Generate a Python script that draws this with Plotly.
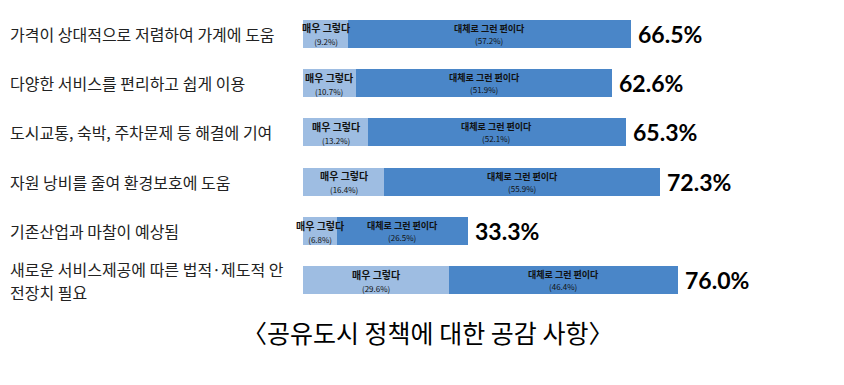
import plotly.graph_objects as go

categories = [
    "가격이 상대적으로 저렴하여 가계에 도움",
    "다양한 서비스를 편리하고 쉽게 이용",
    "도시교통, 숙박, 주차문제 등 해결에 기여",
    "자원 낭비를 줄여 환경보호에 도움",
    "기존산업과 마찰이 예상됨",
    "새로운 서비스제공에 따른 법적·제도적 안|전장치 필요",
]
very_agree = [9.2, 10.7, 13.2, 16.4, 6.8, 29.6]
mostly_agree = [57.2, 51.9, 52.1, 55.9, 26.5, 46.4]
total_labels = ["66.5%", "62.6%", "65.3%", "72.3%", "33.3%", "76.0%"]
series_names = ["매우 그렇다", "대체로 그런 편이다"]
caption = "〈공유도시 정책에 대한 공감 사항〉"

LIGHT = "#9EBDE2"
DARK = "#4A86C8"
FONT = "Noto Sans CJK KR"

# the page body has an 8px margin, so the figure is laid out 8px up/left
W, H = 844, 385
ML, MR, MT, MB = 295, 0, 1, 88
pw = W - ML - MR
ph = H - MT - MB
scale = 4.94  # px per percent
xmax = pw / scale

ys = list(range(len(categories)))

fig = go.Figure()
fig.add_trace(go.Bar(
    y=ys, x=very_agree, orientation="h", name=series_names[0],
    marker=dict(color=LIGHT, line=dict(width=0)), hoverinfo="x+name",
))
fig.add_trace(go.Bar(
    y=ys, x=mostly_agree, orientation="h", name=series_names[1],
    marker=dict(color=DARK, line=dict(width=0)), hoverinfo="x+name",
))

for i, (a, b, lab) in enumerate(zip(very_agree, mostly_agree, total_labels)):
    # segment labels
    fig.add_annotation(
        x=a / 2, y=i, xref="x", yref="y",
        text=f"<b>{series_names[0]}</b><br><span style='font-size:8px'>({a}%)</span>",
        showarrow=False, xanchor="center", yanchor="middle",
        font=dict(family=FONT, size=10, color="#111111"),
    )
    fig.add_annotation(
        x=a + b / 2, y=i, xref="x", yref="y",
        text=f"<b>{series_names[1]}</b><br><span style='font-size:8px'>({b}%)</span>",
        showarrow=False, xanchor="center", yanchor="middle",
        font=dict(family=FONT, size=9, color="#111111"),
    )
    # total label
    fig.add_annotation(
        x=a + b, y=i, xref="x", yref="y", text=f"<b>{lab}</b>",
        showarrow=False, xanchor="left", yanchor="middle", xshift=5,
        font=dict(family="Lato", size=23, color="#000000"),
    )

for i, cat in enumerate(categories):
    lines = cat.split("|")
    n = len(lines)
    step = 23
    for k, line in enumerate(lines):
        fig.add_annotation(
            x=-ML / pw, y=i, xref="paper", yref="y", text=line,
            showarrow=False, xanchor="left", yanchor="middle", align="left",
            yshift=(n - 1) * step / 2 - k * step,
            font=dict(family=FONT, size=16, color="#222222"),
        )

fig.add_annotation(
    x=(419 - ML) / pw, y=-(324 - (MT + ph)) / ph, xref="paper", yref="paper",
    text=caption, showarrow=False, xanchor="center", yanchor="middle",
    font=dict(family=FONT, size=25, color="#000000"),
)

fig.update_layout(
    width=W, height=H, barmode="stack", bargap=0.43, showlegend=False,
    margin=dict(l=ML, r=MR, t=MT, b=MB),
    paper_bgcolor="white", plot_bgcolor="white",
    xaxis=dict(range=[0, xmax], visible=False),
    yaxis=dict(range=[len(categories) - 0.5, -0.5], visible=False),
)

fig.write_html("out.html")
